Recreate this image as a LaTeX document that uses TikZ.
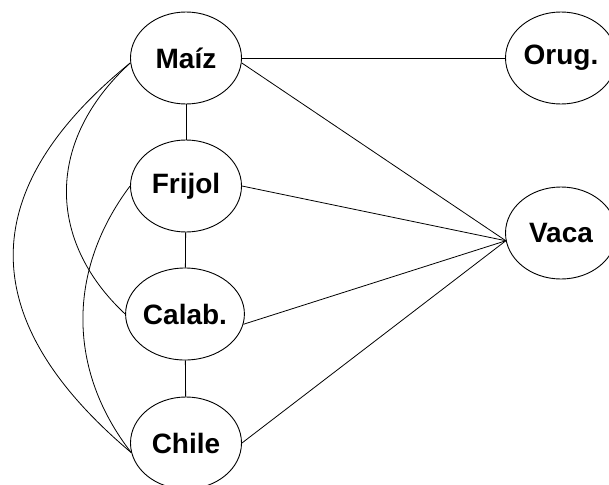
\documentclass[tikz,border=0pt]{standalone}
\usepackage{fontspec}
\setmainfont{Liberation Sans}
\usetikzlibrary{shapes.geometric}
\begin{document}
\begin{tikzpicture}[x=1pt,y=-1pt,
  crop/.style={draw, ellipse, line width=0.9pt, minimum width=111pt, minimum height=92pt, inner sep=0pt,
    font=\fontsize{28}{30}\selectfont\bfseries},
  link/.style={line width=0.8pt}]
\useasboundingbox (0,0) rectangle (609,484);
\node[crop] (maiz)   at (186,58)  {Maíz};
\node[crop] (frijol) at (186,186) {Frijol};
\node[crop] (calab)  at (185,314) {Calab.};
\node[crop] (chile)  at (186,443) {Chile};
\node[crop] (orug)   at (561,58)  {Orug.};
\node[crop] (vaca)   at (561,233) {Vaca};
\coordinate (vw) at (vaca.188);
\draw[link] (maiz) -- (frijol);
\draw[link] (frijol) -- (calab);
\draw[link] (calab) -- (chile);
\draw[link] (maiz) -- (orug);
\draw[link] (maiz.-5) -- (vw);
\draw[link] (frijol.east) -- (vw);
\draw[link] (calab.-10) -- (vw);
\draw[link] (chile.east) -- (vw);
\draw[link] (maiz.185) .. controls (-26,190) and (-26,320) .. (chile.190);
\draw[link] (maiz.185) .. controls (46,140) and (46,240) .. (calab.west);
\draw[link] (frijol.west) .. controls (67,270) and (67,370) .. (chile.190);
\end{tikzpicture}
\end{document}
